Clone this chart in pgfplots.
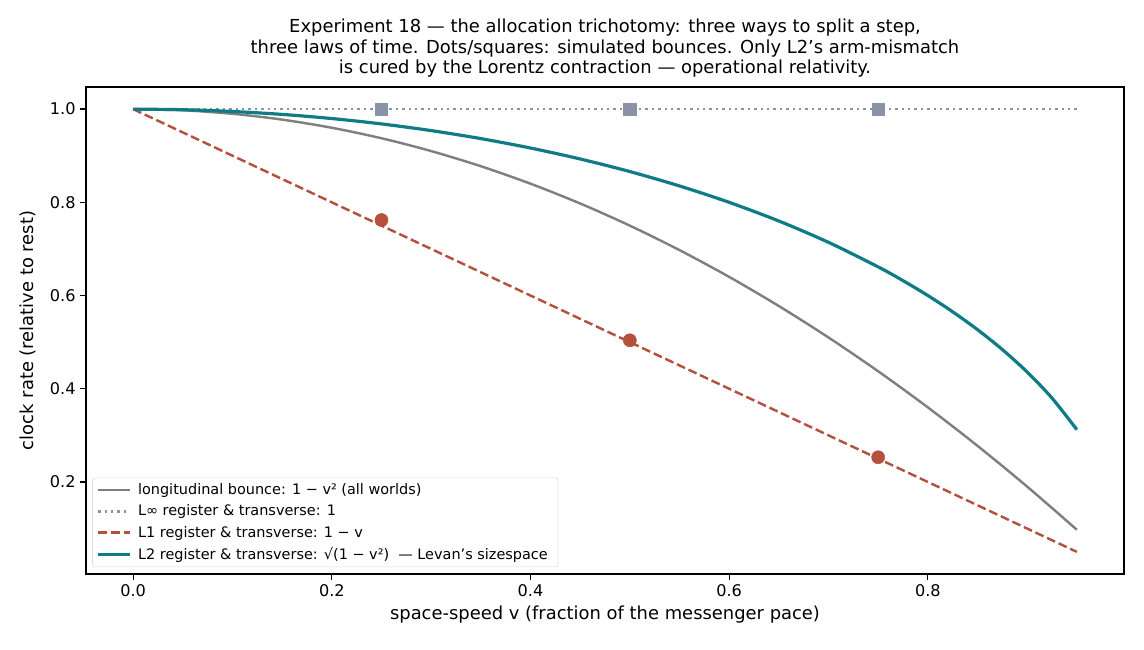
\documentclass[border=0pt]{standalone}
\usepackage{fontspec}
\setmainfont{DejaVu Sans}
\usepackage{pgfplots}
\pgfplotsset{compat=1.18}

\definecolor{cgray}{HTML}{7F7F7F}
\definecolor{cslate}{HTML}{8A92A5}
\definecolor{crust}{HTML}{B3513D}
\definecolor{cteal}{HTML}{0F7B85}

\begin{document}
\begin{tikzpicture}
\path (0,0) rectangle (823.68pt,468pt);
\begin{axis}[
  at={(61.92pt,54.72pt)}, anchor=south west,
  scale only axis, width=747.36pt, height=350.64pt,
  xmin=-0.0475, xmax=0.9975, ymin=0.0025, ymax=1.0475,
  xtick={0,0.2,0.4,0.6,0.8}, ytick={0.2,0.4,0.6,0.8,1.0},
  /pgf/number format/assume math mode=true,
  xticklabel style={/pgf/number format/.cd, fixed, fixed zerofill, precision=1},
  yticklabel style={/pgf/number format/.cd, fixed, fixed zerofill, precision=1},
  tick label style={font=\fontsize{11.6}{13}\selectfont},
  label style={font=\fontsize{12.9}{15}\selectfont},
  ylabel style={xshift=0pt, yshift=3pt},
  tick align=outside, major tick length=4pt,
  tick style={black, line width=0.93pt},
  axis line style={black, line width=0.93pt},
  tick pos=left,
  xlabel={space-speed v (fraction of the messenger pace)},
  ylabel={clock rate (relative to rest)},
  legend cell align=left,
  legend image code/.code={\draw[#1] (0pt,0pt) -- (23pt,0pt);},
  legend style={at={(0.006,0.014)}, anchor=south west,
    font=\fontsize{10.4}{12.5}\selectfont, draw=black!15, rounded corners=2pt,
    fill=white, fill opacity=0.8, text opacity=1, row sep=2pt,
    inner xsep=3pt, inner ysep=2pt,
    nodes={inner xsep=4.5pt}},
]
% longitudinal bounce: 1 - v^2
\addplot[cgray, line width=1.75pt, smooth] coordinates {
 (0,1) (0.05,0.9975) (0.1,0.99) (0.15,0.9775) (0.2,0.96) (0.25,0.9375)
 (0.3,0.91) (0.35,0.8775) (0.4,0.84) (0.45,0.7975) (0.5,0.75) (0.55,0.6975)
 (0.6,0.64) (0.65,0.5775) (0.7,0.51) (0.75,0.4375) (0.8,0.36) (0.85,0.2775)
 (0.9,0.19) (0.95,0.0975)};
\addlegendentry{longitudinal bounce: 1 − v² (all worlds)}
% L-infinity register: constant rate
\addplot[cslate, line width=1.75pt, dash pattern=on 1.74pt off 2.87pt] coordinates {
 (0,1) (0.95,1)};
\addlegendentry{L∞ register \& transverse: 1}
% L1 register: 1 - v
\addplot[crust, line width=1.75pt, dash pattern=on 6.4pt off 2.8pt] coordinates {
 (0,1) (0.95,0.05)};
\addlegendentry{L1 register \& transverse: 1 − v}
% L2 register: sqrt(1 - v^2)
\addplot[cteal, line width=2.3pt, smooth] coordinates {
 (0,1) (0.05,0.99875) (0.1,0.99499) (0.15,0.98869) (0.2,0.97980) (0.25,0.96825)
 (0.3,0.95394) (0.35,0.93675) (0.4,0.91652) (0.45,0.89303) (0.5,0.86603)
 (0.55,0.83516) (0.6,0.8) (0.65,0.75993) (0.7,0.71414) (0.75,0.66144)
 (0.775,0.63196) (0.8,0.6) (0.825,0.56513) (0.85,0.52678) (0.875,0.48412)
 (0.9,0.43589) (0.925,0.37997) (0.95,0.31225)};
\addlegendentry{L2 register \& transverse: √(1 − v²) \ — Levan's sizespace}
% simulated bounces
\addplot[only marks, mark=square*, mark size=4.5pt, color=cslate, forget plot] coordinates {
 (0.25,1.0) (0.5,1.0) (0.75,1.0)};
\addplot[only marks, mark=*, mark size=4.7pt, color=crust, forget plot] coordinates {
 (0.25,0.762) (0.5,0.504) (0.75,0.253)};
\end{axis}
\node[align=center, font=\fontsize{12.9}{14.8}\selectfont] at (435.6pt,433.1pt)
 {Experiment 18 — the allocation trichotomy: three ways to split a step,\\
  three laws of time. Dots/squares: simulated bounces. Only L2's arm-mismatch\\
  is cured by the Lorentz contraction — operational relativity.};
\end{tikzpicture}
\end{document}
